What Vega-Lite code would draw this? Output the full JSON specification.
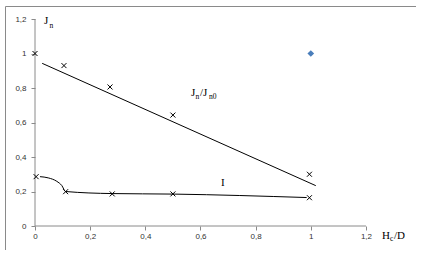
{
  "$schema": "https://vega.github.io/schema/vega-lite/v6.json",
  "width": 411,
  "height": 244,
  "autosize": {"type": "none"},
  "padding": {"left": 5, "top": 6, "right": 0, "bottom": 0},
  "background": "white",
  "config": {"view": {"stroke": "#8a8a8a", "strokeWidth": 1}, "font": "Liberation Sans"},
  "datasets": {
    "axes": [
      {"x": 0, "x2": 1.2, "y": 0, "y2": 0},
      {"x": 0, "x2": 0, "y": 0, "y2": 1.2}
    ],
    "upper": [
      {"x": 0, "y": 1},
      {"x": 0.105, "y": 0.93},
      {"x": 0.272, "y": 0.806},
      {"x": 0.5, "y": 0.643},
      {"x": 0.995, "y": 0.3}
    ],
    "lower": [
      {"x": 0.004, "y": 0.286},
      {"x": 0.111, "y": 0.199},
      {"x": 0.28, "y": 0.186},
      {"x": 0.5, "y": 0.186},
      {"x": 0.995, "y": 0.164}
    ],
    "trend": [
      {"x": 0.026, "y": 0.943},
      {"x": 1.018, "y": 0.234}
    ],
    "curve": [
      {"x": 0.018, "y": 0.286},
      {"x": 0.048, "y": 0.279},
      {"x": 0.079, "y": 0.259},
      {"x": 0.097, "y": 0.235},
      {"x": 0.111, "y": 0.2},
      {"x": 0.28, "y": 0.188},
      {"x": 0.5, "y": 0.185},
      {"x": 0.985, "y": 0.165}
    ],
    "extra": [
      {"x": 1, "y": 1}
    ],
    "labels": [
      {"x": 0.0326, "y": 1.1716, "t": "J"},
      {"x": 0.5656, "y": 0.7554, "t": "J"},
      {"x": 0.5982, "y": 0.7554, "t": "/J"},
      {"x": 0.6744, "y": 0.2348, "t": "I"},
      {"x": 1.2582, "y": -0.0754, "t": "H"},
      {"x": 1.3017, "y": -0.0754, "t": "/D"}
    ],
    "subs": [
      {"x": 0.0526, "y": 1.1507, "t": "n"},
      {"x": 0.582, "y": 0.739, "t": "n"},
      {"x": 0.6309, "y": 0.736, "t": "n0"},
      {"x": 1.2872, "y": -0.087, "t": "c"}
    ]
  },
  "encoding": {
    "x": {
      "field": "x",
      "type": "quantitative",
      "scale": {"domain": [-0.1088, 1.3814], "nice": false, "zero": false},
      "axis": {
        "title": null,
        "offset": -24,
        "domain": false,
        "grid": false,
        "values": [0, 0.2, 0.4, 0.6, 0.8, 1, 1.2],
        "format": "~g",
        "tickColor": "#8a8a8a",
        "tickSize": 4,
        "labelPadding": 2,
        "labelFont": "Liberation Sans",
        "labelFontSize": 8,
        "labelColor": "#333333",
        "labelExpr": "replace(datum.label, '.', ',')"
      }
    },
    "y": {
      "field": "y",
      "type": "quantitative",
      "scale": {"domain": [-0.1391, 1.2754], "nice": false, "zero": false},
      "axis": {
        "title": null,
        "offset": -30,
        "domain": false,
        "grid": false,
        "values": [0, 0.2, 0.4, 0.6, 0.8, 1, 1.2],
        "format": "~g",
        "tickColor": "#8a8a8a",
        "tickSize": 4,
        "labelPadding": 5,
        "labelFont": "Liberation Sans",
        "labelFontSize": 8,
        "labelColor": "#333333",
        "labelExpr": "replace(datum.label, '.', ',')"
      }
    }
  },
  "layer": [
    {
      "data": {"name": "axes"},
      "mark": {"type": "rule", "color": "#8a8a8a", "strokeWidth": 1},
      "encoding": {"x2": {"field": "x2"}, "y2": {"field": "y2"}}
    },
    {
      "data": {"name": "trend"},
      "mark": {"type": "line", "color": "#000000", "strokeWidth": 1},
      "encoding": {}
    },
    {
      "data": {"name": "curve"},
      "mark": {"type": "line", "color": "#000000", "strokeWidth": 1, "interpolate": "monotone"},
      "encoding": {}
    },
    {
      "data": {"name": "upper"},
      "mark": {"type": "point", "shape": "M-1,-1L1,1M-1,1L1,-1", "filled": false, "stroke": "#000000", "strokeWidth": 1, "size": 25, "opacity": 1}
    },
    {
      "data": {"name": "lower"},
      "mark": {"type": "point", "shape": "M-1,-1L1,1M-1,1L1,-1", "filled": false, "stroke": "#000000", "strokeWidth": 1, "size": 25, "opacity": 1}
    },
    {
      "data": {"name": "extra"},
      "mark": {"type": "point", "shape": "diamond", "filled": true, "color": "#4a7ebb", "size": 45, "opacity": 1}
    },
    {
      "data": {"name": "labels"},
      "mark": {"type": "text", "font": "Liberation Serif", "fontSize": 11, "align": "left", "baseline": "alphabetic", "fill": "#000000"},
      "encoding": {"text": {"field": "t"}}
    },
    {
      "data": {"name": "subs"},
      "mark": {"type": "text", "font": "Liberation Serif", "fontSize": 7.5, "align": "left", "baseline": "alphabetic", "fill": "#000000"},
      "encoding": {"text": {"field": "t"}}
    }
  ]
}
